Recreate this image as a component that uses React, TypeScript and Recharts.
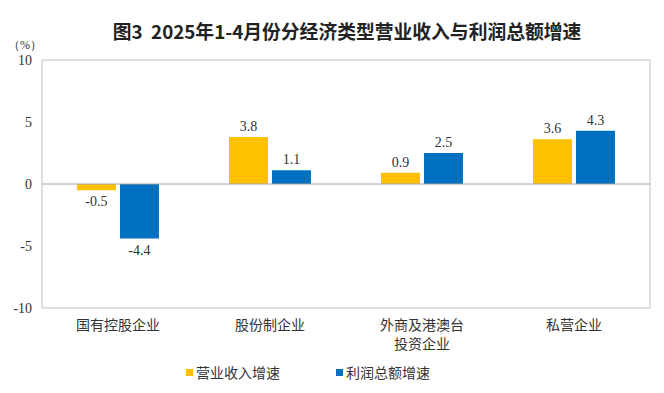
import React from "react";
import {
  BarChart,
  Bar,
  XAxis,
  YAxis,
  ReferenceLine,
  ReferenceArea,
  LabelList,
} from "recharts";

const title = "图3  2025年1-4月份分经济类型营业收入与利润总额增速";
const categories = ["国有控股企业", "股份制企业", "外商及港澳台投资企业", "私营企业"];
const revenueGrowth = [-0.5, 3.8, 0.9, 3.6];
const profitGrowth = [-4.4, 1.1, 2.5, 4.3];
const seriesNames = ["营业收入增速", "利润总额增速"];
const yTicks = [-10, -5, 0, 5, 10];

const YELLOW = "#FFC000";
const BLUE = "#0070C0";
const SERIF = '"Times New Roman", "Liberation Serif", "DejaVu Serif", serif';
const CJK = '"Noto Sans CJK SC", "Noto Sans", sans-serif';

const data = categories.map((name, i) => ({
  name,
  revenue: revenueGrowth[i],
  profit: profitGrowth[i],
}));

function ValueLabel(props: any) {
  const { x, y, width, height, value } = props;
  const top = Math.min(y, y + height);
  const bottom = Math.max(y, y + height);
  const cx = x + width / 2;
  const ty = value >= 0 ? top - 6 : bottom + 16;
  return (
    <text x={cx} y={ty} textAnchor="middle" fontFamily={SERIF} fontSize={14} fill="#333">
      {value}
    </text>
  );
}

function CategoryTick(props: any) {
  const { x, y, payload } = props;
  const label: string = payload.value;
  const lines = label.length > 6 ? [label.slice(0, 6), label.slice(6)] : [label];
  return (
    <g>
      {lines.map((ln, i) => (
        <text
          key={i}
          x={x}
          y={y + 14 + i * 19}
          textAnchor="middle"
          fontFamily={CJK}
          fontSize={14}
          fill="#333"
        >
          {ln}
        </text>
      ))}
    </g>
  );
}

export default function App() {
  return (
    <div
      style={{
        position: "absolute",
        left: 0,
        top: 0,
        width: 664,
        height: 393,
        background: "#fff",
      }}
    >
      <div
        style={{
          position: "absolute",
          left: 0,
          top: 17,
          width: 694,
          textAlign: "center",
          fontFamily: CJK,
          fontWeight: 700,
          fontSize: 18.8,
          color: "#222",
          whiteSpace: "pre",
        }}
      >
        {title}
      </div>
      <div
        style={{
          position: "absolute",
          left: 8,
          top: 37,
          fontFamily: SERIF,
          fontSize: 12,
          color: "#333",
        }}
      >
        （%）
      </div>
      <BarChart
        width={664}
        height={393}
        data={data}
        margin={{ top: 60, right: 14, bottom: 0, left: 0 }}
        barCategoryGap="23%"
        barGap={4}
      >
        <ReferenceArea y1={-10} y2={10} fill="none" stroke="#bfbfbf" strokeWidth={1} />
        <XAxis
          dataKey="name"
          axisLine={false}
          tickLine={false}
          tick={<CategoryTick />}
          interval={0}
          height={85}
        />
        <YAxis
          domain={[-10, 10]}
          ticks={yTicks}
          width={42}
          axisLine={false}
          tickLine={false}
          tickMargin={4}
          tick={{ fontFamily: SERIF, fontSize: 14, fill: "#333" }}
        />
        <ReferenceLine y={0} stroke="#a6a6a6" strokeWidth={1} />
        <Bar dataKey="revenue" fill={YELLOW} isAnimationActive={false}>
          <LabelList dataKey="revenue" content={<ValueLabel />} />
        </Bar>
        <Bar dataKey="profit" fill={BLUE} isAnimationActive={false}>
          <LabelList dataKey="profit" content={<ValueLabel />} />
        </Bar>
      </BarChart>
      <div
        style={{
          position: "absolute",
          left: 186,
          top: 362,
          display: "flex",
          fontFamily: CJK,
          fontSize: 14,
          color: "#333",
        }}
      >
        {seriesNames.map((s, i) => (
          <div
            key={s}
            style={{ display: "flex", alignItems: "center", marginRight: i === 0 ? 56 : 0 }}
          >
            <span
              style={{
                display: "inline-block",
                width: 7,
                height: 7,
                background: i === 0 ? YELLOW : BLUE,
                marginRight: 3,
              }}
            />
            {s}
          </div>
        ))}
      </div>
    </div>
  );
}
